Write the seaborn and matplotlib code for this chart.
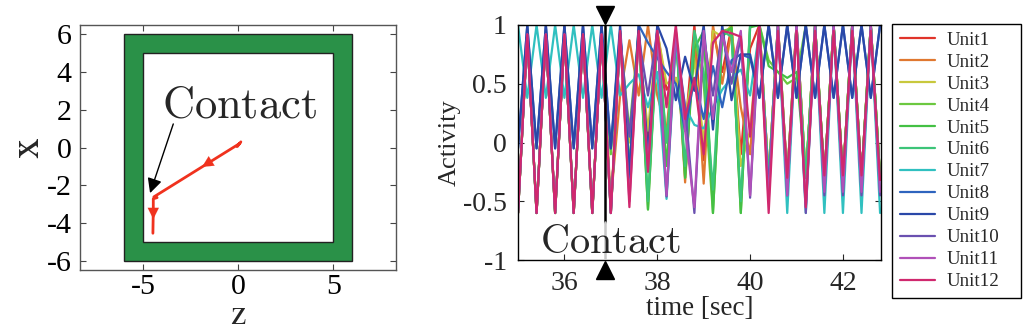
import numpy as np
import pandas as pd
import matplotlib
matplotlib.use("Agg")
import matplotlib.pyplot as plt
from matplotlib.lines import Line2D
import seaborn as sns

sns.set_style("ticks")
plt.rcParams['font.family'] = ['Liberation Serif', 'DejaVu Serif']
plt.rcParams['mathtext.fontset'] = 'cm'

# ---------------- left panel data ----------------
wall_outer = 6.0
wall_inner = 5.0
traj_z = [0.15, -0.05, 0.1, -4.42, -4.25, -4.45, -4.45, -4.47]
traj_x = [0.3, 0.05, 0.22, -2.62, -2.66, -2.72, -3.3, -4.55]
contact_text_pos = (-4.0, 1.59)
contact_arrow_tail = (-3.4, 1.25)
contact_arrow_tip = (-4.62, -2.42)
left_xticks = [-5, 0, 5]
left_yticks = [-6, -4, -2, 0, 2, 4, 6]

# ---------------- right panel data ----------------
time = [35.0, 35.2, 35.4, 35.6, 35.8, 36.0, 36.2, 36.4, 36.6, 36.8,
        37.0, 37.2, 37.4, 37.6, 37.8, 38.0, 38.2, 38.4, 38.6, 38.8,
        39.0, 39.2, 39.4, 39.6, 39.8, 40.0, 40.2, 40.4, 40.6, 40.8,
        41.0, 41.2, 41.4, 41.6, 41.8, 42.0, 42.2, 42.4, 42.6, 42.8]

units = ["Unit1", "Unit2", "Unit3", "Unit4", "Unit5", "Unit6",
         "Unit7", "Unit8", "Unit9", "Unit10", "Unit11", "Unit12"]
unit_colors = ["#e0342a", "#e07830", "#c8c83c", "#6cc840", "#44c044", "#3cc478",
               "#30c0c0", "#2e64be", "#2a48a8", "#6a50b0", "#b050b8", "#d0286e"]

unit1 = [-0.6, 0.92, -0.6, 0.92, -0.6, 0.92, -0.6, 0.92, -0.6, 0.92,
         -0.6, 0.9, -0.4, 0.9, 0.0, 0.95, 0.45, 0.55, 0.1, 1.0,
         -0.15, 0.95, 0.6, 0.98, -0.1, 0.8, 1.0, -0.3, 1.0, -0.3,
         1.0, -0.3, 1.0, -0.3, 1.0, -0.3, 1.0, -0.3, 1.0, -0.3]
unit2 = [-0.6, 0.92, -0.6, 0.92, -0.6, 0.92, -0.6, 0.92, -0.6, 0.92,
         -0.5, 0.4, 0.87, 0.4, 1.0, 0.4, 0.1, 0.95, -0.34, 0.9,
         -0.35, 1.0, 0.5, 0.95, 0.3, -0.1, 1.0, -0.3, 1.0, -0.3,
         1.0, -0.3, 1.0, -0.3, 1.0, -0.3, 1.0, -0.3, 1.0, -0.3]
unit3 = [-0.6, 0.92, -0.6, 0.92, -0.6, 0.92, -0.6, 0.92, -0.6, 0.92,
         -0.55, 0.9, 0.0, 0.85, 0.1, 0.95, 0.5, 0.55, 0.2, 0.7,
         0.0, 0.95, 0.9, 1.0, -0.2, 0.1, 1.0, -0.3, 1.0, -0.3,
         1.0, -0.3, 1.0, -0.3, 1.0, -0.3, 1.0, -0.3, 1.0, -0.3]
unit4 = [-0.6, 0.92, -0.6, 0.92, -0.6, 0.92, -0.6, 0.92, -0.6, 0.92,
         -0.1, 0.9, 0.1, 0.95, -0.57, 0.95, 0.0, 0.95, -0.3, 0.9,
         0.5, -0.6, 0.95, 0.97, -0.6, 1.0, 1.0, 0.7, 0.6, 0.5,
         0.55, 1.0, 1.0, -0.3, 1.0, -0.3, 1.0, -0.3, 1.0, -0.3]
unit5 = [-0.6, 0.92, -0.6, 0.92, -0.6, 0.92, -0.6, 0.92, -0.6, 0.92,
         -0.6, 0.9, -0.2, 0.95, -0.57, 0.9, -0.2, 0.95, -0.3, 0.8,
         0.95, -0.6, 0.9, 0.98, -0.6, 0.98, 1.0, 0.65, 0.6, 0.55,
         0.6, -0.3, 1.0, -0.3, 1.0, -0.3, 1.0, -0.3, 1.0, -0.3]
unit6 = [-0.6, 0.92, -0.6, 0.92, -0.6, 0.92, -0.6, 0.92, -0.6, 0.92,
         -0.6, 0.9, -0.3, 0.95, -0.5, 0.9, 0.0, 0.9, -0.2, 0.95,
         0.6, -0.4, 0.95, 0.9, -0.5, 1.0, 1.0, -0.3, 1.0, -0.3,
         1.0, -0.3, 1.0, -0.3, 1.0, -0.3, 1.0, -0.3, 1.0, -0.3]
unit7 = [1.0, 0.38, 1.0, 0.38, 1.0, 0.38, 1.0, 0.38, 1.0, 0.38,
         1.0, 0.4, 0.5, 0.58, 0.3, 0.6, -0.48, 0.85, 0.3, 0.15,
         0.12, 0.3, 0.45, 0.55, 0.62, 0.4, 0.95, -0.4, 1.0, -0.6,
         1.0, -0.6, 1.0, -0.6, 1.0, -0.6, 1.0, -0.6, 1.0, -0.6]
unit8 = [-0.05, 1.0, -0.05, 1.0, -0.05, 1.0, -0.05, 1.0, -0.05, 1.0,
         -0.05, 0.95, -0.25, 1.0, 0.85, 0.72, 0.6, 0.5, 0.1, 0.55,
         0.2, 0.65, 0.3, 0.7, 0.75, 0.72, 0.38, 1.0, 0.38, 1.0,
         0.38, 1.0, 0.38, 1.0, 0.38, 1.0, 0.38, 1.0, 0.38, 1.0]
unit9 = [-0.05, 1.0, -0.05, 1.0, -0.05, 1.0, -0.05, 1.0, -0.05, 1.0,
         -0.05, 1.0, -0.3, 1.0, -0.1, 1.0, 0.8, 0.36, 0.73, 0.44,
         1.0, 0.11, 1.0, 0.36, 0.75, 0.75, 0.38, 1.0, 0.38, 1.0,
         0.38, 1.0, 0.38, 1.0, 0.38, 1.0, 0.38, 1.0, 0.38, 1.0]
unit10 = [-0.6, 0.92, -0.6, 0.92, -0.6, 0.92, -0.6, 0.92, -0.6, 0.92,
          -0.6, 0.92, 0.05, 0.9, 0.4, 0.95, -0.46, 0.9, 0.3, -0.6,
          0.9, 0.4, 0.95, 0.5, 0.9, -0.47, 0.95, -0.4, 1.0, -0.45,
          1.0, -0.6, 1.0, -0.45, 1.0, -0.45, 1.0, -0.45, 1.0, -0.45]
unit11 = [-0.6, 0.92, -0.6, 0.92, -0.6, 0.92, -0.6, 0.92, -0.6, 0.92,
          -0.6, 0.92, -0.5, 0.92, -0.2, 0.95, -0.45, 0.95, 0.1, -0.55,
          0.95, 0.2, 0.92, 0.6, 0.95, -0.45, 1.0, -0.5, 1.0, -0.45,
          1.0, -0.55, 1.0, -0.42, 1.0, -0.42, 1.0, -0.42, 1.0, -0.42]
unit12 = [-0.6, 0.92, -0.6, 0.92, -0.6, 0.92, -0.6, 0.92, -0.6, 0.92,
          -0.6, 0.95, -0.55, 0.95, -0.25, 0.95, 0.3, 1.0, 0.2, 0.55,
          -0.1, 0.85, 0.95, 0.93, 0.9, 0.05, 1.0, -0.6, 0.95, -0.3,
          0.95, -0.55, 0.95, -0.28, 0.95, -0.28, 0.95, -0.28, 0.95, -0.32]
unit_values = [unit1, unit2, unit3, unit4, unit5, unit6,
               unit7, unit8, unit9, unit10, unit11, unit12]

contact_time = 36.88
contact_cut = -0.68
right_xticks = [36, 38, 40, 42]
right_yticks = [-1, -0.5, 0, 0.5, 1]
right_yticklabels = ["-1", "-0.5", "0", "0.5", "1"]

# ---------------- figure ----------------
fig = plt.figure(figsize=(10.24, 3.29), dpi=100)
ax1 = fig.add_axes([80/1024, 59/329, 316/1024, 245/329])
ax2 = fig.add_axes([518/1024, 69/329, 363/1024, 235/329])

# left panel
green = "#2a9148"
oz = [-wall_outer, wall_outer, wall_outer, -wall_outer]
ox = [-wall_outer, -wall_outer, wall_outer, wall_outer]
iz = [-wall_inner, wall_inner, wall_inner, -wall_inner]
ix = [-wall_inner, -wall_inner, wall_inner, wall_inner]
ax1.fill(oz, ox, facecolor=green, edgecolor="#222222", lw=1.0, zorder=1)
ax1.fill(iz, ix, facecolor="white", edgecolor="#222222", lw=1.0, zorder=2)

red = "#f0321e"
sns.lineplot(x=traj_z, y=traj_x, sort=False, estimator=None, color=red,
             lw=2.0, ax=ax1, zorder=4)
p_a, p_b = (traj_z[2], traj_x[2]), (traj_z[3], traj_x[3])
f1, f2 = 0.38, 0.44
ax1.annotate("", xy=(p_a[0] + f2*(p_b[0]-p_a[0]), p_a[1] + f2*(p_b[1]-p_a[1])),
             xytext=(p_a[0] + f1*(p_b[0]-p_a[0]), p_a[1] + f1*(p_b[1]-p_a[1])),
             arrowprops=dict(arrowstyle="-|>", color=red, lw=0.1,
                             mutation_scale=20, shrinkA=0, shrinkB=0), zorder=5)
ax1.annotate("", xy=(traj_z[6], -3.8), xytext=(traj_z[6], traj_x[6]),
             arrowprops=dict(arrowstyle="-|>", color=red, lw=0.1,
                             mutation_scale=20, shrinkA=0, shrinkB=0), zorder=5)

ax1.text(contact_text_pos[0], contact_text_pos[1], r"$\mathrm{Contact}$", fontsize=32,
         va="baseline", ha="left", zorder=6, math_fontfamily="cm")
ax1.annotate("", xy=contact_arrow_tip, xytext=contact_arrow_tail,
             arrowprops=dict(arrowstyle="-|>", color="black", lw=1.0,
                             mutation_scale=22, shrinkA=0, shrinkB=0), zorder=6)

ax1.set_xlim(-8.3, 8.3)
ax1.set_ylim(-6.5, 6.5)
ax1.set_xticks(left_xticks)
ax1.set_yticks(left_yticks)
ax1.set_xticklabels([str(v) for v in left_xticks])
ax1.set_yticklabels([str(v) for v in left_yticks])
ax1.tick_params(direction="in", top=True, right=True, length=4, width=0.8,
                labelsize=21.5, pad=6, colors="#444444", labelcolor="black")
ax1.tick_params(axis="x", pad=3)
# axis labels placed as tight (mathtext) texts in axes coordinates
ax1.text(0.5, -0.222, r"$\mathrm{z}$", transform=ax1.transAxes, fontsize=25,
         ha="center", va="baseline", math_fontfamily="stix")
ax1.text(-0.163, 0.5, r"$\mathrm{x}$", transform=ax1.transAxes, fontsize=30,
         ha="center", va="center", rotation=90, math_fontfamily="stix")
for s in ax1.spines.values():
    s.set_color("#555555")
    s.set_linewidth(1.0)

# right panel
rows = []
for u, vals in zip(units, unit_values):
    for t, v in zip(time, vals):
        rows.append((t, v, u))
df = pd.DataFrame(rows, columns=["time", "activity", "unit"])
palette = dict(zip(units, unit_colors))
sns.lineplot(data=df, x="time", y="activity", hue="unit", hue_order=units,
             palette=palette, estimator=None, sort=False, lw=1.6,
             legend=False, ax=ax2)

ax2.plot([contact_time, contact_time], [contact_cut, 1.0], color="black", lw=1.8, zorder=5)
ax2.plot([contact_time, contact_time], [-1.0, contact_cut], color="#c8c8c8", lw=1.8, zorder=5)
ax2.plot([contact_time], [1.085], marker="v", color="black", markersize=13,
         clip_on=False, zorder=6)
ax2.plot([contact_time], [-1.085], marker="^", color="black", markersize=13,
         clip_on=False, zorder=6)
ax2.text(35.47, -0.94, r"$\mathrm{Contact}$", fontsize=29, va="baseline", ha="left",
         zorder=7, math_fontfamily="cm")

ax2.set_xlim(35.0, 42.82)
ax2.set_ylim(-1, 1)
ax2.set_xticks(right_xticks)
ax2.set_xticklabels([str(v) for v in right_xticks])
ax2.set_yticks(right_yticks)
ax2.set_yticklabels(right_yticklabels)
ax2.tick_params(direction="in", top=True, right=True, length=4, width=0.8,
                labelsize=20, pad=8)
ax2.set_xlabel("time [sec]", fontsize=19.5, labelpad=0)
ax2.set_ylabel("Activity", fontsize=19, labelpad=2)
for s in ax2.spines.values():
    s.set_color("black")
    s.set_linewidth(1.0)

handles = [Line2D([0], [0], color=c, lw=1.6) for c in unit_colors]
leg_x0, leg_y1 = 892/1024, 1 - 24/329
leg_w, leg_h = 129/1024, 272/329
leg = fig.legend(handles, units, loc="upper left",
                 bbox_to_anchor=(leg_x0, leg_y1 - leg_h, leg_w, leg_h),
                 mode="expand", borderaxespad=0,
                 fontsize=13.6, handlelength=1.9, handletextpad=0.6,
                 labelspacing=0.25, borderpad=0.4, fancybox=False,
                 framealpha=1, edgecolor="black")
leg.get_frame().set_linewidth(1.0)

fig.savefig("out.png", dpi=100)
